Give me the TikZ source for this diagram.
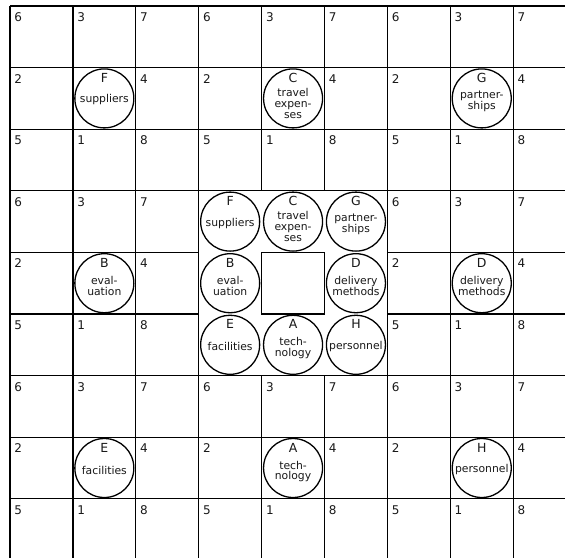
\documentclass[tikz,border=0pt]{standalone}
\usepackage{fontspec}
\setmainfont{DejaVu Sans}
\newcommand\topicnode[6]{%
  \node[topiccircle] (#1) at (#2,#3) {};
  \node[topicletter] (#1-l) at (#2,#3-20.5) {#4};
  \node[topiclabel] (#1-t) at (#2,#3+#6) {#5};
}
\begin{document}
\begin{tikzpicture}[x=1pt,y=-1pt,
  gridline/.style={line width=1.3pt, black},
  digitnode/.style={anchor=base west, inner sep=0pt, text=black!90, font=\fontsize{12}{12}\selectfont},
  topiccircle/.style={circle, draw=black, line width=1.3pt, minimum size=59pt, inner sep=0pt, fill=white},
  topicletter/.style={inner sep=0pt, text=black!90, font=\fontsize{12.5}{13}\selectfont},
  topiclabel/.style={inner sep=0pt, align=center, text=black!90, font=\fontsize{10.8}{10.8}\selectfont}]
\useasboundingbox (0,0) rectangle (565,558);
\fill[white] (0,0) rectangle (565,558);
\def\cw{62.9}
\def\ch{61.6}
% horizontal grid lines
\foreach \j in {0,1,2,3,6,7,8}{
  \draw[gridline] (10,{6+\ch*\j}) -- (565,{6+\ch*\j});
}
\foreach \j in {4,5}{
  \draw[gridline] (10,{6+\ch*\j}) -- ({10+\cw*3},{6+\ch*\j});
  \draw[gridline] ({10+\cw*6},{6+\ch*\j}) -- (565,{6+\ch*\j});
}
% vertical grid lines
\foreach \i in {0,1,2,3,6,7,8}{
  \draw[gridline] ({10+\cw*\i},6) -- ({10+\cw*\i},558);
}
\foreach \i in {4,5}{
  \draw[gridline] ({10+\cw*\i},6) -- ({10+\cw*\i},{6+\ch*3});
  \draw[gridline] ({10+\cw*\i},{6+\ch*6}) -- ({10+\cw*\i},558);
}
% centre square
\draw[gridline] ({10+\cw*4},{6+\ch*4}) rectangle ({10+\cw*5},{6+\ch*5});
% digits
\foreach \bi/\bj in {0/0,1/0,2/0,0/1,2/1,0/2,1/2,2/2}{
  \foreach \ci/\cj/\d in {0/0/6,1/0/3,2/0/7,0/1/2,2/1/4,0/2/5,1/2/1,2/2/8}{
    \node[digitnode] (n-\bi-\bj-\ci-\cj) at ({10+\cw*(3*\bi+\ci)+4.2},{6+\ch*(3*\bj+\cj)+15.5}) {\d};
  }
}
% outer topics (block centres)
\topicnode{oF}{10+\cw*1.5}{6+\ch*1.5}{F}{suppliers}{1.5}
\topicnode{oC}{10+\cw*4.5}{6+\ch*1.5}{C}{travel\\expen-\\ses}{5}
\topicnode{oG}{10+\cw*7.5}{6+\ch*1.5}{G}{partner-\\ships}{3}
\topicnode{oB}{10+\cw*1.5}{6+\ch*4.5}{B}{eval-\\uation}{3}
\topicnode{oD}{10+\cw*7.5}{6+\ch*4.5}{D}{delivery\\methods}{3}
\topicnode{oE}{10+\cw*1.5}{6+\ch*7.5}{E}{facilities}{2}
\topicnode{oA}{10+\cw*4.5}{6+\ch*7.5}{A}{tech-\\nology}{3.5}
\topicnode{oH}{10+\cw*7.5}{6+\ch*7.5}{H}{personnel}{2}
% central block topics
\topicnode{cF}{10+\cw*3.5}{6+\ch*3.5}{F}{suppliers}{1.5}
\topicnode{cC}{10+\cw*4.5}{6+\ch*3.5}{C}{travel\\expen-\\ses}{5}
\topicnode{cG}{10+\cw*5.5}{6+\ch*3.5}{G}{partner-\\ships}{3}
\topicnode{cB}{10+\cw*3.5}{6+\ch*4.5}{B}{eval-\\uation}{3}
\topicnode{cD}{10+\cw*5.5}{6+\ch*4.5}{D}{delivery\\methods}{3}
\topicnode{cE}{10+\cw*3.5}{6+\ch*5.5}{E}{facilities}{2}
\topicnode{cA}{10+\cw*4.5}{6+\ch*5.5}{A}{tech-\\nology}{3.5}
\topicnode{cH}{10+\cw*5.5}{6+\ch*5.5}{H}{personnel}{2}
\end{tikzpicture}
\end{document}
